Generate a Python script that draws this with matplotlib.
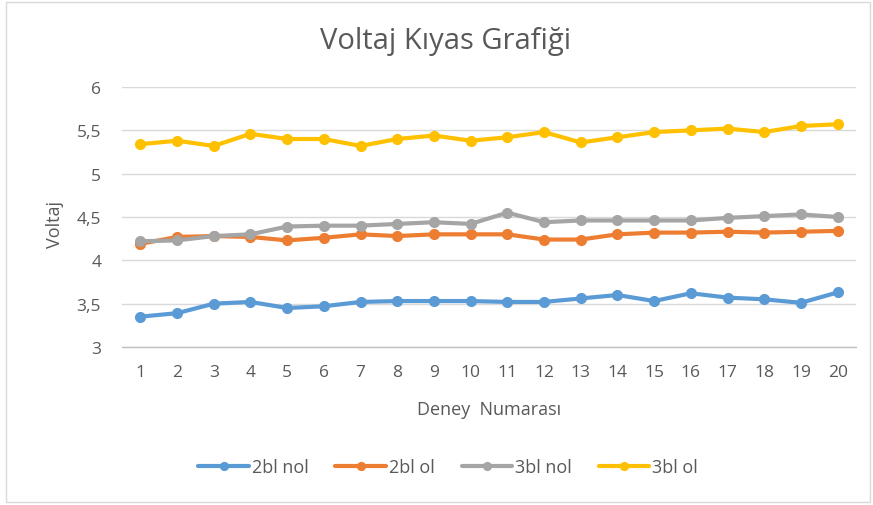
import matplotlib
matplotlib.use("Agg")
import matplotlib.pyplot as plt
from matplotlib.patches import Rectangle

plt.rcParams['font.family'] = ['Open Sans', 'DejaVu Sans']

deney = list(range(1, 21))
bl2_nol = [3.35, 3.39, 3.50, 3.52, 3.45, 3.47, 3.52, 3.53, 3.53, 3.53,
           3.52, 3.52, 3.56, 3.60, 3.53, 3.62, 3.57, 3.55, 3.51, 3.63]
bl2_ol = [4.19, 4.27, 4.28, 4.27, 4.23, 4.26, 4.30, 4.28, 4.30, 4.30,
          4.30, 4.24, 4.24, 4.30, 4.32, 4.32, 4.33, 4.32, 4.33, 4.34]
bl3_nol = [4.22, 4.23, 4.28, 4.30, 4.39, 4.40, 4.40, 4.42, 4.44, 4.42,
           4.55, 4.44, 4.46, 4.46, 4.46, 4.46, 4.49, 4.51, 4.53, 4.50]
bl3_ol = [5.34, 5.38, 5.32, 5.46, 5.40, 5.40, 5.32, 5.40, 5.44, 5.38,
          5.42, 5.48, 5.36, 5.42, 5.48, 5.50, 5.52, 5.48, 5.55, 5.57]
series_names = ['2bl nol', '2bl ol', '3bl nol', '3bl ol']
colors = ['#5B9BD5', '#ED7D31', '#A5A5A5', '#FFC000']
yticks = [3, 3.5, 4, 4.5, 5, 5.5, 6]
ytick_labels = ['3', '3,5', '4', '4,5', '5', '5,5', '6']

fig = plt.figure(figsize=(8.73, 5.06), dpi=100)
ax = fig.add_axes([122/873, 1-348/506, (856-122)/873, (348-88)/506])

for vals, name, c in zip([bl2_nol, bl2_ol, bl3_nol, bl3_ol], series_names, colors):
    ax.plot(deney, vals, color=c, lw=3, marker='o', ms=7, label=name,
            solid_capstyle='round')

ax.set_xlim(0.5, 20.5)
ax.set_ylim(3, 6)
ax.set_yticks(yticks)
ax.set_yticklabels(ytick_labels)
ax.set_xticks(deney)
ax.grid(axis='y', color='#d9d9d9', lw=1)
ax.set_axisbelow(True)
for s in ['left', 'right', 'top']:
    ax.spines[s].set_visible(False)
ax.spines['bottom'].set_color('#bfbfbf')
ax.spines['bottom'].set_linewidth(1)
ax.tick_params(axis='both', length=0, colors='#595959', labelsize=12.5)
ax.tick_params(axis='x', pad=12)
ax.tick_params(axis='y', pad=15)

fig.text(446/873, 1-42/506, 'Voltaj Kıyas Grafiği', ha='center', va='center',
         fontsize=21, color='#595959')
fig.text(489/873, 1-410/506, 'Deney  Numarası', ha='center', va='center',
         fontsize=13, color='#595959')
fig.text(55/873, 1-225/506, 'Voltaj', ha='center', va='center', rotation=90,
         fontsize=13, color='#595959')

leg = fig.legend(loc='center', bbox_to_anchor=(448/873, 1-468/506), ncol=4,
                 frameon=False, fontsize=13, handlelength=2.8, columnspacing=1.5,
                 handletextpad=0.15, markerscale=0.8)
for t in leg.get_texts():
    t.set_color('#595959')

fig.patches.append(Rectangle((6/873, 3/506), 864/873, 500/506, transform=fig.transFigure,
                             fill=False, edgecolor='#d9d9d9', lw=1))

fig.savefig('out.png', dpi=100)
